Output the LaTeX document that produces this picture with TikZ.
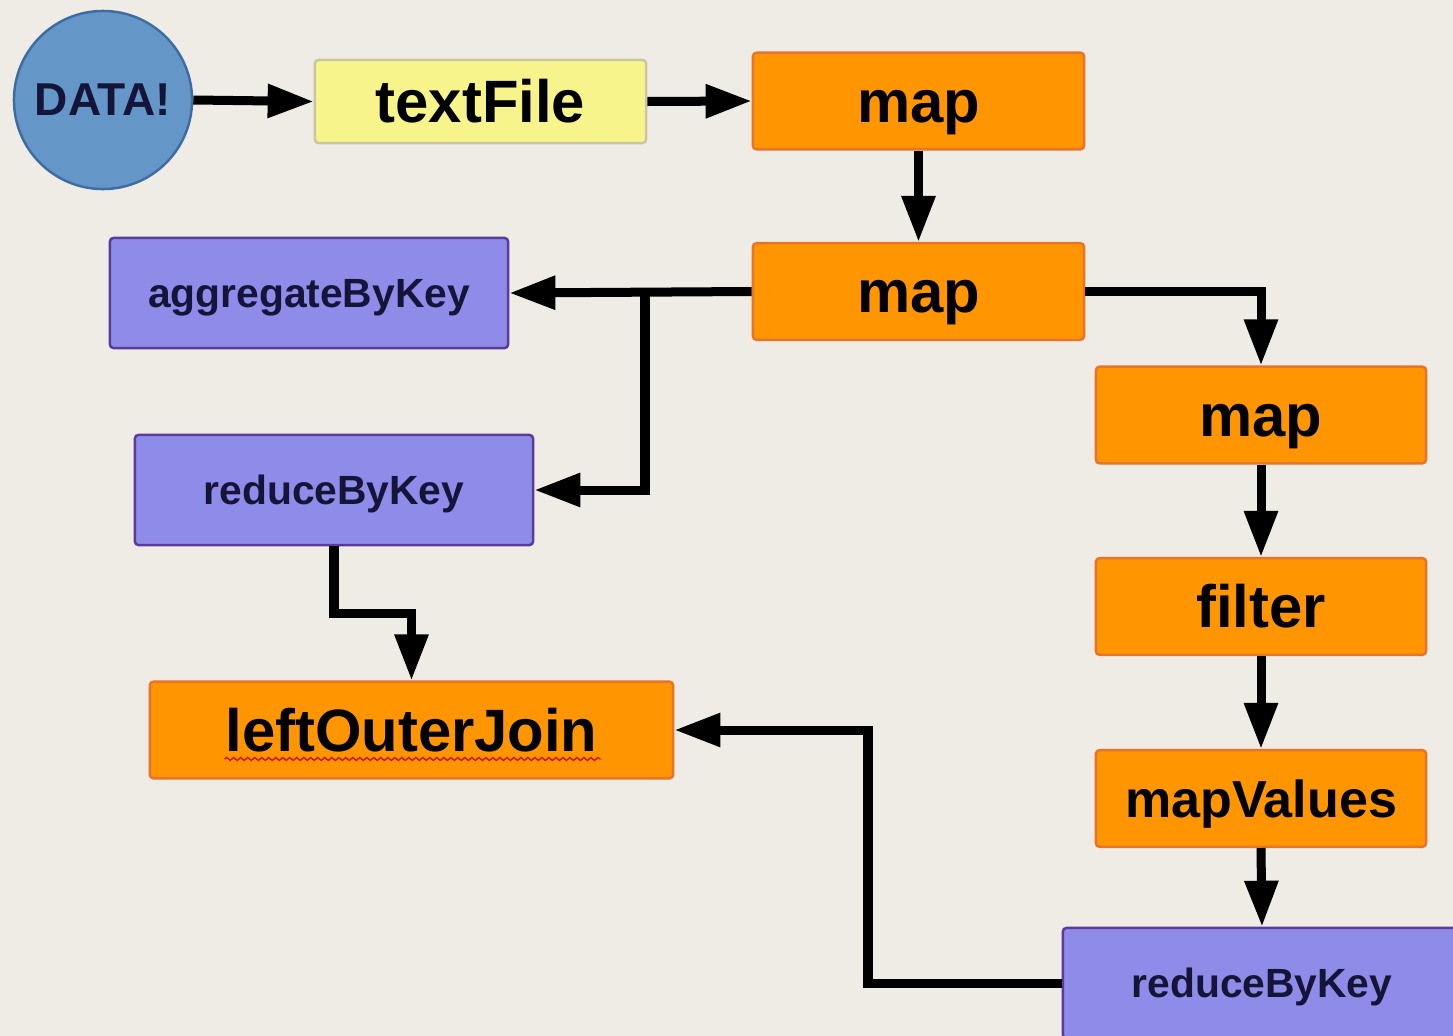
\documentclass[tikz,border=0pt]{standalone}
\usepackage{fontspec}
\setmainfont{Liberation Sans}
\usetikzlibrary{arrows.meta,calc,decorations.pathmorphing}
\definecolor{bg}{HTML}{EFECE5}
\definecolor{orfill}{HTML}{FF9500}
\definecolor{ordraw}{HTML}{E8742A}
\definecolor{pufill}{HTML}{8F8BE8}
\definecolor{pudraw}{HTML}{5A3A9A}
\definecolor{yefill}{HTML}{F6F48A}
\definecolor{yedraw}{HTML}{C9C7A2}
\definecolor{blfill}{HTML}{6496C8}
\definecolor{bldraw}{HTML}{3F6CA2}
\definecolor{navy}{HTML}{15153A}
\begin{document}
\begin{tikzpicture}[x=0.01cm,y=-0.01cm,
  box/.style={rectangle,rounded corners=1pt,line width=0.7pt,inner sep=0pt,
    font=\bfseries\fontsize{17}{20}\selectfont,text height=12.2pt,text depth=0pt},
  orbox/.style={box,fill=orfill,draw=ordraw,minimum width=3.31cm,minimum height=0.965cm},
  pubox/.style={box,fill=pufill,draw=pudraw,minimum width=3.98cm,minimum height=1.10cm,text=navy,
    font=\bfseries\fontsize{11.6}{14}\selectfont,text height=8.3pt},
  flow/.style={line width=0.09cm,-{Triangle[length=0.46cm,width=0.32cm]}},
  wire/.style={line width=0.09cm}]
\useasboundingbox (0,0) rectangle (1453,1036);
\clip (0,0) rectangle (1453,1036);
\fill[bg] (0,0) rectangle (1453,1036);

\node[circle,fill=blfill,draw=bldraw,line width=0.7pt,minimum size=1.78cm,inner sep=0pt,
  font=\bfseries\fontsize{13.1}{15}\selectfont,text=navy] (data) at (103,100) {DATA!};
\node[box,fill=yefill,draw=yedraw,minimum width=3.31cm,minimum height=0.83cm] (tf) at (480.5,101.5) {textFile};
\node[orbox] (m1) at (918.5,101) {map};
\node[orbox] (m2) at (918.5,291.5) {map};
\node[pubox] (agg) at (309,293) {aggregateByKey};
\node[pubox] (r1) at (334,490) {reduceByKey};
\node[orbox,minimum width=5.23cm] (loj) at (411.5,730) {leftOuterJoin};
\node[orbox,minimum width=3.30cm] (m3) at (1261,415) {map};
\node[orbox,minimum width=3.30cm] (fi) at (1261,606.5) {filter};
\node[orbox,minimum width=3.30cm,font=\bfseries\fontsize{14.8}{17}\selectfont,text height=10.6pt] (mv) at (1261,798.5) {mapValues};
\node[pubox] (r2) at (1262,983) {reduceByKey};

\draw[red!85!black,line width=0.35pt,decorate,decoration={snake,segment length=0.07cm,amplitude=0.015cm}]
  ($(loj.center)+(-187,29)$) -- ($(loj.center)+(189,29)$);

\coordinate (br) at (645,292);
\coordinate (k1) at (334,613);
\coordinate (k2) at (868,983);

\draw[flow] (data.east) -- (tf.west);
\draw[flow] (tf.east) -- (m1.west);
\draw[flow] (m1.south) -- (m2.north);
\draw[flow] (m2.west) -- (agg.east);
\draw[flow] (br) |- (r1.east);
\draw[flow] (m2.east) -| (m3.north);
\draw[flow] (m3.south) -- (fi.north);
\draw[flow] (fi.south) -- (mv.north);
\draw[flow] (mv.south) -- (r2.north);
\draw[flow] (r1.south) -- (k1) -| (loj.north);
\draw[flow] (r2.west) -- (k2) |- (loj.east);
\end{tikzpicture}
\end{document}
